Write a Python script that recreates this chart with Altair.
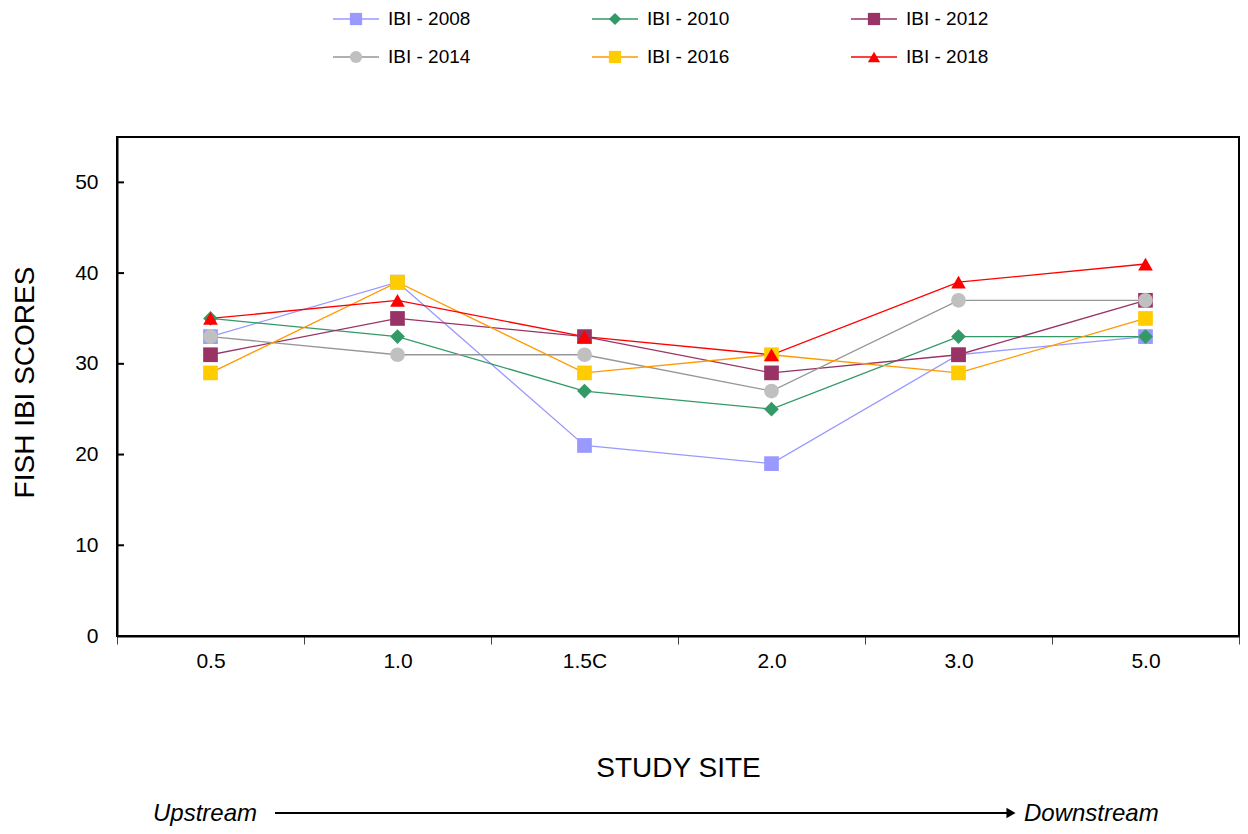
import altair as alt
import pandas as pd

sites = ["0.5", "1.0", "1.5C", "2.0", "3.0", "5.0"]
series = ["IBI - 2008", "IBI - 2010", "IBI - 2012", "IBI - 2014", "IBI - 2016", "IBI - 2018"]
ibi_2008 = [33, 39, 21, 19, 31, 33]
ibi_2010 = [35, 33, 27, 25, 33, 33]
ibi_2012 = [31, 35, 33, 29, 31, 37]
ibi_2014 = [33, 31, 31, 27, 37, 37]
ibi_2016 = [29, 39, 29, 31, 29, 35]
ibi_2018 = [35, 37, 33, 31, 39, 41]
y_ticks = [0, 10, 20, 30, 40, 50]

line_colors = ["#9999FF", "#339966", "#993366", "#969696", "#FF9900", "#FF0000"]
marker_colors = ["#9999FF", "#339966", "#993366", "#C0C0C0", "#FFCC00", "#FF0000"]
shapes = ["square", "diamond", "square", "circle", "square", "triangle-up"]

all_vals = [ibi_2008, ibi_2010, ibi_2012, ibi_2014, ibi_2016, ibi_2018]
rows = []
for s, vals in zip(series, all_vals):
    for site, v in zip(sites, vals):
        rows.append({"series": s, "site": site, "score": v})
df = pd.DataFrame(rows)

FONT = "Liberation Sans"

x_enc = alt.X(
    "site:N", sort=sites, bandPosition=0.5,
    scale=alt.Scale(type="band", domain=sites, paddingInner=0, paddingOuter=0),
    axis=alt.Axis(
        title="STUDY SITE", titleFontSize=28, titleFontWeight="normal", titleFont=FONT,
        titleColor="black", titleY=132, titleBaseline="middle",
        labelFontSize=21, labelFont=FONT, labelColor="black", labelAngle=0, labelPadding=6,
        tickBand="extent", tickSize=8, tickColor="#444", tickWidth=1,
        domainColor="black", domainWidth=2, grid=False,
    ),
)
y_enc = alt.Y(
    "score:Q",
    scale=alt.Scale(domain=[0, 55], nice=False, zero=True),
    axis=alt.Axis(
        title="FISH IBI SCORES", titleFontSize=28, titleFontWeight="normal", titleFont=FONT,
        titleColor="black", titleX=-92, titleY=245, titleAngle=-90, titleAlign="center",
        titleBaseline="middle",
        values=y_ticks, labelFontSize=21, labelFont=FONT, labelColor="black",
        ticks=False, labelPadding=19, domainColor="black", domainWidth=2, grid=False,
    ),
)

lines = alt.Chart(df).mark_line(strokeWidth=1.3).encode(
    x=x_enc, y=y_enc,
    stroke=alt.Stroke("series:N", sort=series,
                      scale=alt.Scale(domain=series, range=line_colors), legend=None),
    detail="series:N",
)

points = alt.Chart(df).mark_point(filled=True, opacity=1, size=216).encode(
    x=x_enc, y=y_enc,
    fill=alt.Fill("series:N", scale=alt.Scale(domain=series, range=marker_colors), legend=None),
    shape=alt.Shape("series:N", scale=alt.Scale(domain=series, range=shapes), legend=None),
)

tick_df = pd.DataFrame({"score": y_ticks[1:]})
inner_ticks = alt.Chart(tick_df).mark_rule(color="black", strokeWidth=2).encode(
    y=y_enc, x=alt.value(0), x2=alt.value(7)
)

one = pd.DataFrame({"a": [0]})
legend_layers = []
col_x = [216, 475, 734]
row_y = [-118, -80]
for i, s in enumerate(series):
    cx = col_x[i % 3]
    cy = row_y[i // 3]
    legend_layers.append(
        alt.Chart(one).mark_rule(color=line_colors[i], strokeWidth=1.3).encode(
            x=alt.value(cx), x2=alt.value(cx + 46), y=alt.value(cy)
        )
    )
    legend_layers.append(
        alt.Chart(one).mark_point(filled=True, opacity=1, size=150, shape=shapes[i],
                                  color=marker_colors[i]).encode(
            x=alt.value(cx + 23), y=alt.value(cy)
        )
    )
    legend_layers.append(
        alt.Chart(one).mark_text(text=s, align="left", baseline="middle", fontSize=19,
                                 font=FONT, color="black").encode(
            x=alt.value(cx + 55), y=alt.value(cy)
        )
    )

arrow_y = 676
arrow_line = alt.Chart(one).mark_rule(color="black", strokeWidth=2).encode(
    x=alt.value(158), x2=alt.value(893), y=alt.value(arrow_y)
)
arrow_head = alt.Chart(one).mark_point(filled=True, opacity=1, size=110, shape="triangle-right",
                                       color="black").encode(
    x=alt.value(894), y=alt.value(arrow_y)
)
up_text = alt.Chart(one).mark_text(text="Upstream", align="left", baseline="middle", fontSize=24,
                                   font=FONT, fontStyle="italic", color="black").encode(
    x=alt.value(36), y=alt.value(arrow_y + 1)
)
down_text = alt.Chart(one).mark_text(text="Downstream", align="left", baseline="middle", fontSize=24,
                                     font=FONT, fontStyle="italic", color="black").encode(
    x=alt.value(907), y=alt.value(arrow_y + 1)
)

chart = alt.layer(
    lines, points, inner_ticks, *legend_layers, arrow_line, arrow_head, up_text, down_text
).properties(
    width=1122, height=499,
    background="white",
    autosize=alt.AutoSizeParams(type="none"),
    padding={"left": 109, "top": 129, "right": 1, "bottom": 190},
).configure_view(
    stroke="black", strokeWidth=2
)

chart.save("out.html", embed_options={"renderer": "svg", "actions": False})
